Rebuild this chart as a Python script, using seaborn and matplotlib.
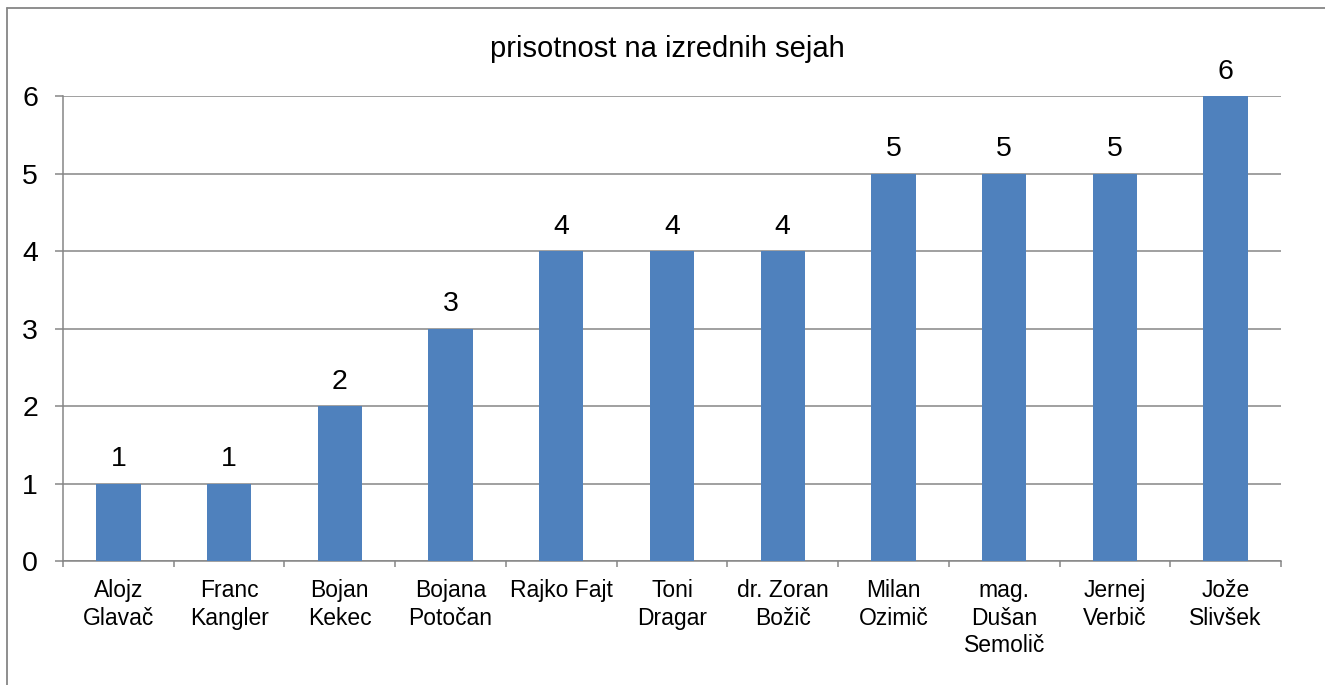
import matplotlib
matplotlib.use("Agg")
import matplotlib.pyplot as plt
import seaborn as sns
import numpy as np
import pandas as pd
from matplotlib.lines import Line2D
from matplotlib.ticker import MultipleLocator, FixedLocator

# data
names = ["Alojz\nGlavač", "Franc\nKangler", "Bojan\nKekec", "Bojana\nPotočan",
         "Rajko Fajt", "Toni\nDragar", "dr. Zoran\nBožič", "Milan\nOzimič",
         "mag.\nDušan\nSemolič", "Jernej\nVerbič", "Jože\nSlivšek"]
attendance = [1, 1, 2, 3, 4, 4, 4, 5, 5, 5, 6]
title = "prisotnost na izrednih sejah"

sns.set_theme(style="white")
plt.rcParams["font.family"] = ["Liberation Sans", "DejaVu Sans"]

GRID = "#868686"
BAR = "#4F81BD"

df = pd.DataFrame({"name": names, "count": attendance})

fig = plt.figure(figsize=(13.25, 6.85), dpi=100)
ax = fig.add_axes([63 / 1325, 1 - 561 / 685, (1281 - 63) / 1325, (561 - 96) / 685])

sns.barplot(data=df, x="name", y="count", color=BAR, width=0.4,
            saturation=1, linewidth=0, ax=ax, zorder=3)

ax.set_xlim(-0.5, len(names) - 0.5)
ax.set_ylim(0, 6)
ax.yaxis.set_major_locator(MultipleLocator(1))
ax.grid(axis="y", color=GRID, linewidth=1.1, zorder=0)
ax.grid(axis="x", visible=False)
ax.set_axisbelow(True)

for side in ["top", "right"]:
    ax.spines[side].set_visible(False)
for side in ["left", "bottom"]:
    ax.spines[side].set_color(GRID)
    ax.spines[side].set_linewidth(1.1)

ax.set_xlabel("")
ax.set_ylabel("")
ax.tick_params(axis="y", which="major", left=True, length=6, width=1.1,
               color=GRID, pad=12, labelsize=20.5, labelcolor="black")
ax.tick_params(axis="x", which="major", bottom=True, length=0, pad=13,
               labelsize=16.5, labelcolor="black")
ax.xaxis.set_minor_locator(FixedLocator(np.arange(-0.5, len(names), 1.0)))
ax.tick_params(axis="x", which="minor", bottom=True, length=4.5, width=1.1,
               color=GRID)
for lbl in ax.get_xticklabels():
    lbl.set_linespacing(1.25)

ax.bar_label(ax.containers[0], labels=[str(v) for v in attendance],
             padding=8, fontsize=20.5, color="black")

fig.text(667 / 1325, 1 - 49 / 685, title, ha="center", va="center",
         fontsize=21, color="black")

# chart area border (top and left edges visible in the reference)
fig.add_artist(Line2D([7 / 1325, 1.0], [1 - 8 / 685, 1 - 8 / 685],
                      transform=fig.transFigure, color=GRID, linewidth=1.3))
fig.add_artist(Line2D([7 / 1325, 7 / 1325], [0.0, 1 - 8 / 685],
                      transform=fig.transFigure, color=GRID, linewidth=1.3))

fig.savefig("out.png", dpi=100)
